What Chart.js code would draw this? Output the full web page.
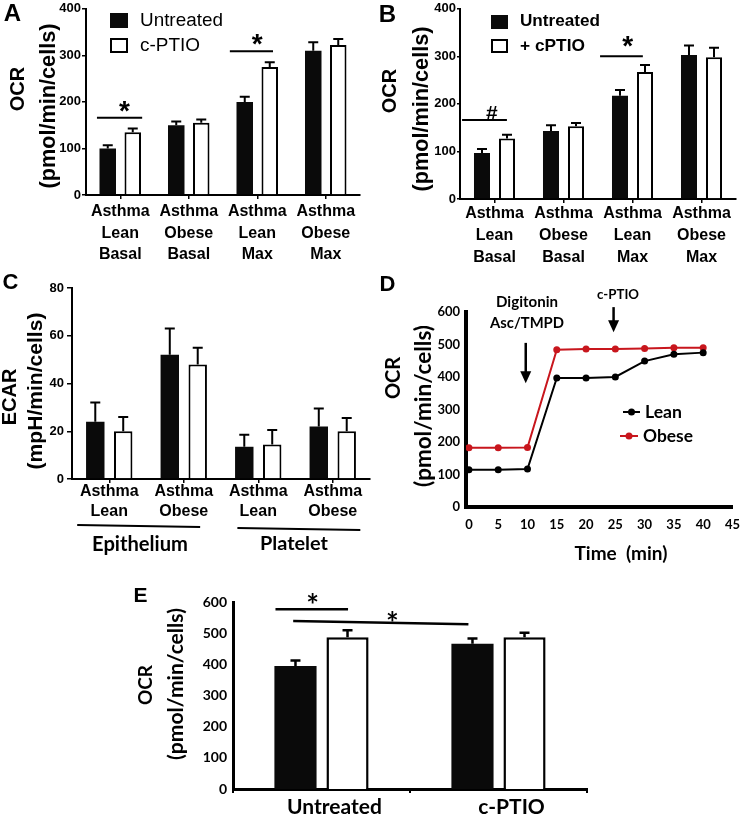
<!DOCTYPE html>
<html>
<head>
<meta charset="utf-8">
<title>OCR / ECAR panels</title>
<script src="https://cdn.jsdelivr.net/npm/chart.js"></script>
<style>
  body { margin: 0; background: #fff; }
  #page { position: relative; width: 750px; height: 817px; overflow: hidden; }
  canvas { position: absolute; }
</style>
</head>
<body>
<div id="page">
  <canvas id="chartA" width="375" height="270" style="left:0;top:0"></canvas>
  <canvas id="chartB" width="375" height="270" style="left:375px;top:0"></canvas>
  <canvas id="chartC" width="375" height="290" style="left:0;top:270px"></canvas>
  <canvas id="chartD" width="375" height="300" style="left:375px;top:270px"></canvas>
  <canvas id="chartE" width="500" height="242" style="left:100px;top:575px"></canvas>
</div>
<script>
// ---- data ----
const groupsAB = [['Asthma', 'Lean', 'Basal'], ['Asthma', 'Obese', 'Basal'], ['Asthma', 'Lean', 'Max'], ['Asthma', 'Obese', 'Max']];
const untreatedA = [100, 150, 200, 310];
const untreatedErrA = [7, 8, 11, 18];
const cptioA = [135, 155, 275, 322];
const cptioErrA = [8, 7, 10, 13];
const ticksOCR400 = [0, 100, 200, 300, 400];

const untreatedB = [97, 143, 217, 303];
const untreatedErrB = [8, 12, 12, 20];
const cptioB = [127, 153, 267, 298];
const cptioErrB = [8, 7, 15, 20];

const groupsC = [['Asthma', 'Lean'], ['Asthma', 'Obese'], ['Asthma', 'Lean'], ['Asthma', 'Obese']];
const untreatedC = [24, 52, 13.5, 22];
const untreatedErrC = [8, 11, 5, 7.5];
const cptioC = [20, 48, 14.5, 20];
const cptioErrC = [6, 7, 6, 5.5];
const ticksECAR = [0, 20, 40, 60, 80];

const timeD = [0, 5, 10, 15, 20, 25, 30, 35, 40];
const leanD = [115, 115, 117, 397, 397, 400, 449, 470, 475];
const obeseD = [182, 182, 183, 484, 486, 486, 488, 490, 490];
const ticksTime = [0, 5, 10, 15, 20, 25, 30, 35, 40, 45];
const ticksOCR600 = [0, 100, 200, 300, 400, 500, 600];

const groupsE = ['Untreated', 'c-PTIO'];
const leanE = [395, 466];
const leanErrE = [17, 17];
const obeseE = [487, 487];
const obeseErrE = [22, 14];

const ARIAL = 'Arial, "Liberation Sans", sans-serif';
const LATO = 'Lato, "Open Sans", sans-serif';
const RED = '#c8161d';

// extra drawing per canvas (error bars, brackets, titles, legends)
const notes = {};

function drawText(ctx, t) {
  ctx.save();
  const weight = t.weight || 'bold';
  const family = t.family || ARIAL;
  let size = t.size || 16;
  if (t.w) {
    ctx.font = weight + ' 100px ' + family;
    size = 100 * t.w / ctx.measureText(t.text).width;
  }
  ctx.font = weight + ' ' + size + 'px ' + family;
  ctx.fillStyle = t.color || '#000';
  ctx.textAlign = t.align || 'center';
  ctx.textBaseline = t.baseline || 'middle';
  ctx.translate(t.x, t.y + (t.dy || 0) * size);
  if (t.rotate) ctx.rotate(t.rotate * Math.PI / 180);
  ctx.fillText(t.text, 0, 0);
  ctx.restore();
}

const annotate = {
  id: 'annotate',
  afterDatasetsDraw(chart) {
    const n = notes[chart.canvas.id];
    if (!n) return;
    const ctx = chart.ctx;
    const x = chart.scales.x, y = chart.scales.y;
    ctx.save();
    ctx.strokeStyle = '#000';
    ctx.fillStyle = '#000';
    ctx.lineCap = 'butt';

    // error bars: one arm up from each bar top
    (n.errors || []).forEach((errs, di) => {
      const meta = chart.getDatasetMeta(di);
      const vals = chart.data.datasets[di].data;
      ctx.lineWidth = n.errWidth || 2;
      meta.data.forEach((bar, i) => {
        const top = y.getPixelForValue(vals[i] + errs[i]);
        ctx.beginPath();
        ctx.moveTo(bar.x, bar.y);
        ctx.lineTo(bar.x, top);
        ctx.moveTo(bar.x - n.cap, top);
        ctx.lineTo(bar.x + n.cap, top);
        ctx.stroke();
      });
    });

    // significance lines with their marks
    (n.brackets || []).forEach(b => {
      ctx.lineWidth = b.width || 2;
      ctx.beginPath();
      ctx.moveTo(x.getPixelForValue(b.x1), y.getPixelForValue(b.y1));
      ctx.lineTo(x.getPixelForValue(b.x2), y.getPixelForValue(b.y2 === undefined ? b.y1 : b.y2));
      ctx.stroke();
      drawText(ctx, { text: b.label, x: x.getPixelForValue(b.lx), y: y.getPixelForValue(b.ly),
        size: b.size, family: b.family, baseline: 'alphabetic', dy: b.dy });
    });

    // group underlines below the category axis
    (n.groups || []).forEach(g => {
      ctx.lineWidth = 2;
      ctx.beginPath();
      ctx.moveTo(x.getPixelForValue(g.x1), g.y1);
      ctx.lineTo(x.getPixelForValue(g.x2), g.y2);
      ctx.stroke();
    });

    // arrows (data coordinates)
    (n.arrows || []).forEach(a => {
      const ax = x.getPixelForValue(a.x);
      const y1 = y.getPixelForValue(a.from), y2 = y.getPixelForValue(a.to);
      ctx.lineWidth = 2.5;
      ctx.beginPath();
      ctx.moveTo(ax, y1);
      ctx.lineTo(ax, y2 - 10);
      ctx.stroke();
      ctx.beginPath();
      ctx.moveTo(ax - 5.5, y2 - 12);
      ctx.lineTo(ax + 5.5, y2 - 12);
      ctx.lineTo(ax, y2);
      ctx.closePath();
      ctx.fill();
    });
    ctx.restore();
  },
  afterDraw(chart) {
    const n = notes[chart.canvas.id];
    if (!n) return;
    const ctx = chart.ctx;
    (n.legend || []).forEach(item => {
      const ds = chart.data.datasets[item.di];
      ctx.save();
      if (item.box) {
        const [bx, by, bw, bh] = item.box;
        ctx.fillStyle = ds.backgroundColor;
        ctx.fillRect(bx, by, bw, bh);
        if (ds.borderWidth) {
          ctx.strokeStyle = ds.borderColor;
          ctx.lineWidth = 2;
          ctx.strokeRect(bx + 1, by + 1, bw - 2, bh - 2);
        }
      } else if (item.line) {
        const [x1, x2, cy] = item.line;
        ctx.strokeStyle = ds.borderColor;
        ctx.fillStyle = ds.borderColor;
        ctx.lineWidth = 2;
        ctx.beginPath();
        ctx.moveTo(x1, cy);
        ctx.lineTo(x2, cy);
        ctx.stroke();
        ctx.beginPath();
        ctx.arc((x1 + x2) / 2, cy, 3.5, 0, Math.PI * 2);
        ctx.fill();
      }
      ctx.restore();
      drawText(ctx, Object.assign({ text: ds.label, align: 'left' }, item.text));
    });
    (n.texts || []).forEach(t => drawText(ctx, t));
  }
};
Chart.register(annotate);

function baseOptions(padding, scales) {
  return {
    responsive: false,
    animation: false,
    devicePixelRatio: 1,
    layout: { padding: padding },
    scales: scales,
    plugins: { legend: { display: false }, tooltip: { enabled: false }, title: { display: false } },
    events: []
  };
}

function barSets(labels, blackVals, whiteVals, cp, bp, bw) {
  return [
    { label: labels[0], data: blackVals, backgroundColor: '#0a0a0a', borderWidth: 0,
      categoryPercentage: cp, barPercentage: bp },
    { label: labels[1], data: whiteVals, backgroundColor: '#ffffff', borderColor: '#000000', borderWidth: bw,
      categoryPercentage: cp, barPercentage: bp }
  ];
}

// axes for panels A-C (small tick marks, thin axes)
function barScales(o) {
  return {
    x: {
      offset: true,
      z: 1,
      grid: { offset: false, drawOnChartArea: false, drawTicks: true, tickLength: 4, color: '#000', lineWidth: 1.5 },
      border: { display: true, color: '#000', width: 2 },
      ticks: { color: '#000', padding: o.xPad, autoSkip: false, maxRotation: 0,
        font: { family: ARIAL, weight: 'bold', size: 16, lineHeight: o.xLine } },
      afterFit: s => { s.height = o.xHeight; }
    },
    y: {
      min: o.yTicks[0],
      max: o.yTicks[o.yTicks.length - 1],
      afterBuildTicks: s => { s.ticks = o.yTicks.map(v => ({ value: v })); },
      grid: { drawOnChartArea: false, drawTicks: true, tickLength: o.yTick, color: '#000', lineWidth: 1.5 },
      border: { color: '#000', width: 2 },
      ticks: { color: '#000', padding: o.yPad, font: { family: ARIAL, weight: 'bold', size: 13 } },
      afterFit: s => { s.width = o.yWidth; }
    }
  };
}

// Panel A
function initPanelA() {
  notes.chartA = {
    cap: 5,
    errors: [untreatedErrA, cptioErrA],
    brackets: [
      { x1: -0.34, x2: 0.32, y1: 166, label: '*', lx: 0.06, ly: 196, size: 28, dy: 0.57 },
      { x1: 1.6, x2: 2.23, y1: 309, label: '*', lx: 2.0, ly: 340, size: 28, dy: 0.57 }
    ],
    legend: [
      { di: 0, box: [110, 13, 18, 15], text: { x: 140, y: 21, w: 83, weight: 'normal' } },
      { di: 1, box: [110, 38, 18, 15], text: { x: 140, y: 46, w: 60, weight: 'normal' } }
    ],
    texts: [
      { text: 'A', x: 12.5, y: 14, size: 24 },
      { text: 'OCR', x: 18, y: 89, size: 20, rotate: -90 },
      { text: '(pmol/min/cells)', x: 49, y: 106, w: 165, rotate: -90 }
    ]
  };
  new Chart(document.getElementById('chartA'), {
    type: 'bar',
    data: { labels: groupsAB, datasets: barSets(['Untreated', 'c-PTIO'], untreatedA, cptioA, 0.73, 0.66, 2) },
    options: baseOptions({ left: 0, top: 7, right: 15, bottom: 0 },
      barScales({ yTicks: ticksOCR400, yWidth: 86, yTick: 4, yPad: 1, xHeight: 75, xPad: 2, xLine: 1.34 }))
  });
}

// Panel B
function initPanelB() {
  notes.chartB = {
    cap: 5,
    errors: [untreatedErrB, cptioErrB],
    brackets: [
      { x1: -0.47, x2: 0.18, y1: 166, label: '#', lx: -0.04, ly: 183, size: 21, dy: 0.36 },
      { x1: 1.53, x2: 2.15, y1: 300, label: '*', lx: 1.93, ly: 336, size: 28, dy: 0.57 }
    ],
    legend: [
      { di: 0, box: [116, 15, 17, 14], text: { x: 145, y: 21.5, w: 80 } },
      { di: 1, box: [116, 39, 17, 14], text: { x: 145, y: 46, w: 65 } }
    ],
    texts: [
      { text: 'B', x: 12.5, y: 15, size: 24 },
      { text: 'OCR', x: 15, y: 91, size: 20, rotate: -90 },
      { text: '(pmol/min/cells)', x: 47, y: 109, w: 165, rotate: -90 }
    ]
  };
  new Chart(document.getElementById('chartB'), {
    type: 'bar',
    data: { labels: groupsAB, datasets: barSets(['Untreated', '+ cPTIO'], untreatedB, cptioB, 0.725, 0.64, 2) },
    options: baseOptions({ left: 0, top: 6, right: 14, bottom: 0 },
      barScales({ yTicks: ticksOCR400, yWidth: 85, yTick: 3, yPad: 1, xHeight: 71, xPad: -1, xLine: 1.4 }))
  });
}

// Panel C
function initPanelC() {
  notes.chartC = {
    cap: 5,
    errors: [untreatedErrC, cptioErrC],
    groups: [
      { x1: -0.43, x2: 1.22, y1: 255, y2: 257 },
      { x1: 1.72, x2: 3.37, y1: 258, y2: 260 }
    ],
    texts: [
      { text: 'C', x: 10.5, y: 13, size: 22 },
      { text: 'ECAR', x: 10, y: 127, size: 20, rotate: -90 },
      { text: '(mpH/min/cells)', x: 36, y: 121, w: 157, rotate: -90 },
      { text: 'Epithelium', x: 140, y: 274, w: 96, family: LATO },
      { text: 'Platelet', x: 294, y: 274, w: 68, family: LATO }
    ]
  };
  new Chart(document.getElementById('chartC'), {
    type: 'bar',
    data: { labels: groupsC, datasets: barSets(['Untreated', 'c-PTIO'], untreatedC, cptioC, 0.75, 0.66, 2) },
    options: baseOptions({ left: 0, top: 18, right: 5, bottom: 0 },
      barScales({ yTicks: ticksECAR, yWidth: 72, yTick: 5, yPad: 3, xHeight: 81, xPad: -1, xLine: 1.25 }))
  });
}

// Panel D
function initPanelD() {
  notes.chartD = {
    arrows: [
      { x: 9.7, from: 505, to: 381 },
      { x: 24.7, from: 615, to: 538 }
    ],
    legend: [
      { di: 0, line: [248, 265, 142], text: { x: 270, y: 142, w: 37, family: LATO } },
      { di: 1, line: [245, 263, 166], text: { x: 268, y: 166, w: 50, family: LATO } }
    ],
    texts: [
      { text: 'D', x: 12.5, y: 14.5, size: 22 },
      { text: 'OCR', x: 19, y: 108, size: 20, family: LATO, rotate: -90 },
      { text: '(pmol/min/cells)', x: 49, y: 136, w: 162, family: LATO, rotate: -90 },
      { text: 'Time  (min)', x: 246, y: 284, w: 93, family: LATO },
      { text: 'Digitonin', x: 152, y: 32, w: 62, family: LATO },
      { text: 'Asc/TMPD', x: 152, y: 53, w: 74, family: LATO },
      { text: 'c-PTIO', x: 243, y: 25, w: 42, family: LATO }
    ]
  };
  const line = (label, vals, color) => ({
    label: label,
    data: timeD.map((t, i) => ({ x: t, y: vals[i] })),
    borderColor: color,
    backgroundColor: color,
    borderWidth: 2,
    pointRadius: 3.5,
    pointBorderWidth: 0,
    pointBackgroundColor: color,
    tension: 0
  });
  new Chart(document.getElementById('chartD'), {
    type: 'line',
    data: { datasets: [line('Lean', leanD, '#000000'), line('Obese', obeseD, RED)] },
    options: baseOptions({ left: 0, top: 42, right: 9, bottom: 0 }, {
      x: {
        type: 'linear',
        min: -0.5,
        max: 45,
        afterBuildTicks: s => { s.ticks = ticksTime.map(v => ({ value: v })); },
        grid: { display: false, drawTicks: false },
        border: { color: '#000', width: 4 },
        ticks: { color: '#000', padding: 10, font: { family: LATO, weight: 'bold', size: 13 } },
        afterFit: s => { s.height = 63; }
      },
      y: {
        min: 0,
        max: 600,
        afterBuildTicks: s => { s.ticks = ticksOCR600.map(v => ({ value: v })); },
        grid: { display: false, drawTicks: false },
        border: { color: '#000', width: 4 },
        ticks: { color: '#000', padding: 6, font: { family: LATO, weight: 'bold', size: 13 } },
        afterFit: s => { s.width = 91; }
      }
    })
  });
}

// Panel E
function initPanelE() {
  notes.chartE = {
    cap: 5,
    errWidth: 2.5,
    errors: [leanErrE, obeseErrE],
    brackets: [
      { x1: -0.26, x2: 0.15, y1: 577, label: '*', lx: -0.05, ly: 613, size: 30, family: LATO, dy: 0.6, width: 2.5 },
      { x1: -0.16, x2: 0.83, y1: 539, y2: 529, label: '*', lx: 0.4, ly: 555, size: 30, family: LATO, dy: 0.6, width: 2.5 }
    ],
    texts: [
      { text: 'E', x: 40.5, y: 21, size: 21 },
      { text: 'OCR', x: 46, y: 110, size: 19, family: LATO, rotate: -90 },
      { text: '(pmol/min/cells)', x: 76, y: 109, w: 152, family: LATO, rotate: -90 }
    ]
  };
  new Chart(document.getElementById('chartE'), {
    type: 'bar',
    data: { labels: groupsE, datasets: barSets(['Lean', 'Obese'], leanE, obeseE, 0.588, 0.81, 2.5) },
    options: baseOptions({ left: 0, top: 27, right: 13, bottom: 0 }, {
      x: {
        offset: true,
        z: 1,
        grid: { offset: true, drawOnChartArea: false, drawTicks: true, tickLength: 4, color: '#000', lineWidth: 2 },
        border: { color: '#000', width: 3 },
        ticks: { color: '#000', padding: 2, labelOffset: 13, font: { family: LATO, weight: 'bold', size: 21 } },
        afterFit: s => { s.height = 28; }
      },
      y: {
        min: 0,
        max: 600,
        afterBuildTicks: s => { s.ticks = ticksOCR600.map(v => ({ value: v })); },
        grid: { display: false, drawTicks: false },
        border: { color: '#000', width: 3 },
        ticks: { color: '#000', padding: 6, font: { family: LATO, weight: 'bold', size: 14 } },
        afterFit: s => { s.width = 133; }
      }
    })
  });
}

initPanelA();
initPanelB();
initPanelC();
initPanelD();
initPanelE();
</script>
</body>
</html>
